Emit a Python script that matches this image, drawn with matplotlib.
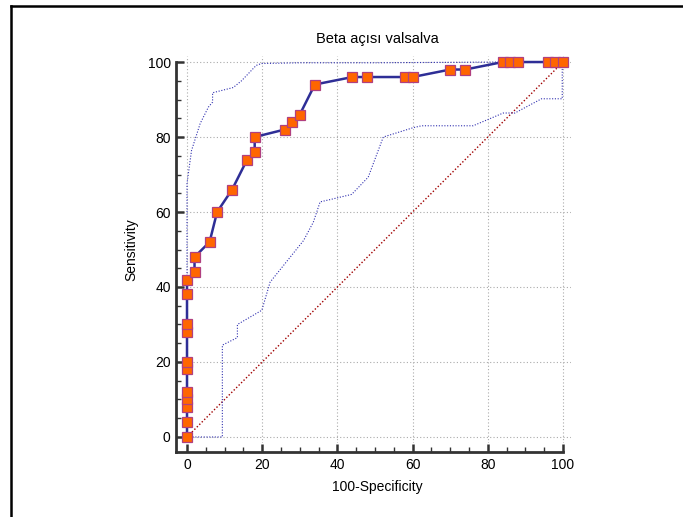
import matplotlib.pyplot as plt
from matplotlib.lines import Line2D
from matplotlib.ticker import MultipleLocator

plt.rcParams['font.family'] = ['Liberation Sans', 'DejaVu Sans']

# ROC curve points (100-Specificity, Sensitivity)
fpr = [0, 0, 0, 0, 0, 0, 0, 0, 0, 0, 0, 2, 2, 6, 8, 12, 16, 18, 18, 26, 28, 30, 34,
       44, 48, 58, 60, 70, 74, 84, 86, 88, 96, 98, 100]
tpr = [0, 4, 8, 10, 12, 18, 20, 28, 30, 38, 42, 44, 48, 52, 60, 66, 74, 76, 80, 82, 84, 86, 94,
       96, 96, 96, 96, 98, 98, 100, 100, 100, 100, 100, 100]

# confidence bounds
upper_x = [0, 0, 1.2, 3.5, 5.7, 6.8, 6.8, 12.3, 14.5, 18.4, 19.8, 30, 50, 84, 100]
upper_y = [0, 67.6, 76.4, 83.6, 88, 89.3, 91.8, 93.2, 95, 99.1, 99.6, 99.8, 99.8, 100, 100]
lower_x = [0, 9.4, 9.4, 13.4, 13.4, 19.9, 22.1, 31, 33.6, 35.4, 38, 43.8, 48.2, 52.2,
           60.2, 62.4, 76.1, 84.1, 87.2, 94.3, 99.8, 99.8]
lower_y = [0, 0, 24.5, 26.5, 30, 33.8, 41.3, 52.4, 57.3, 62.7, 63.3, 64.7, 69.3, 80,
           82.5, 83, 83, 86.4, 86.4, 90.2, 90.2, 100]

fig = plt.figure(figsize=(6.83, 5.17), dpi=100)
ax = fig.add_axes([0.2683, 0.1439, 0.567, 0.747])

ax.plot([0, 100], [0, 100], color='#a00000', linestyle=(0, (1, 1.5)), linewidth=1.0)
ax.plot(upper_x, upper_y, color='#3030b0', linestyle=(0, (1, 1.5)), linewidth=0.8)
ax.plot(lower_x, lower_y, color='#3030b0', linestyle=(0, (1, 1.5)), linewidth=0.8)
ax.plot(fpr, tpr, color='#2e2e96', linewidth=1.8, marker='s', markersize=7.2,
        markerfacecolor='#ff6600', markeredgecolor='#b04080', markeredgewidth=0.9,
        zorder=5, clip_on=False)

ax.set_xlim(-1, 102)
ax.set_ylim(-1.5, 101.5)

for side in ['top', 'right']:
    ax.spines[side].set_visible(False)
ax.spines['left'].set_position(('outward', 5))
ax.spines['bottom'].set_position(('outward', 7))
ax.spines['left'].set_bounds(-4, 100)
ax.spines['bottom'].set_bounds(-2.9, 100)
for side in ['left', 'bottom']:
    ax.spines[side].set_linewidth(2)
    ax.spines[side].set_color('#333333')

ax.xaxis.set_major_locator(MultipleLocator(20))
ax.yaxis.set_major_locator(MultipleLocator(20))
ax.xaxis.set_minor_locator(MultipleLocator(5))
ax.yaxis.set_minor_locator(MultipleLocator(5))
ax.tick_params(which='major', direction='in', length=6, width=1.8, color='#333333',
               labelsize=10, pad=4)
ax.tick_params(which='minor', direction='in', length=3.5, width=1, color='#333333')

ax.grid(True, which='major', color='#aaaaaa', linestyle=(0, (1, 2)), linewidth=0.8)
ax.set_axisbelow(True)

ax.set_xlabel('100-Specificity', fontsize=10, labelpad=6)
ax.set_ylabel('Sensitivity', fontsize=10, labelpad=7)
ax.set_title('Beta açısı valsalva', fontsize=10.5, pad=10)

# outer frame (left and top edges visible)
fig.add_artist(Line2D([10.5 / 683, 10.5 / 683], [0, 1 - 5.5 / 517], color='black',
                      linewidth=1.8, transform=fig.transFigure))
fig.add_artist(Line2D([10.5 / 683, 1], [1 - 5.5 / 517, 1 - 5.5 / 517], color='black',
                      linewidth=1.8, transform=fig.transFigure))

fig.savefig('out.png', dpi=100)
